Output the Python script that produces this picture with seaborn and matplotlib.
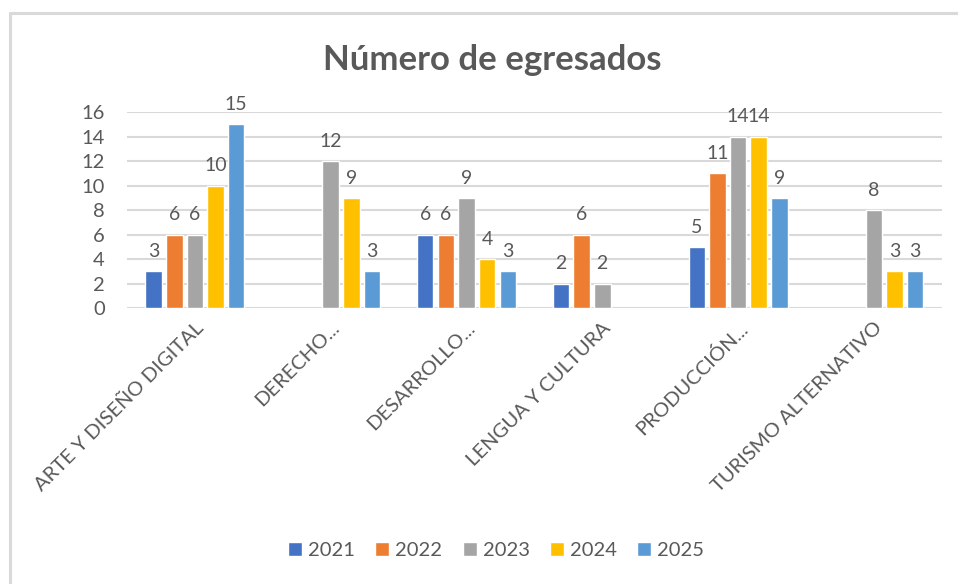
import pandas as pd
import numpy as np
import matplotlib
matplotlib.use("Agg")
import matplotlib.pyplot as plt
import seaborn as sns
from matplotlib.lines import Line2D

categories = ["ARTE Y DISEÑO DIGITAL", "DERECHO...", "DESARROLLO...",
              "LENGUA Y CULTURA", "PRODUCCIÓN...", "TURISMO ALTERNATIVO"]
years = ["2021", "2022", "2023", "2024", "2025"]
v2021 = [3, np.nan, 6, 2, 5, np.nan]
v2022 = [6, np.nan, 6, 6, 11, np.nan]
v2023 = [6, 12, 9, 2, 14, 8]
v2024 = [10, 9, 4, np.nan, 14, 3]
v2025 = [15, 3, 3, np.nan, 9, 3]

palette = {"2021": "#4472C4", "2022": "#ED7D31", "2023": "#A5A5A5",
           "2024": "#FFC000", "2025": "#5B9BD5"}

rows = []
for yr, vals in zip(years, [v2021, v2022, v2023, v2024, v2025]):
    for c, v in zip(categories, vals):
        rows.append({"Carrera": c, "Año": yr, "Egresados": v})
df = pd.DataFrame(rows)

sns.set_theme(style="white")
plt.rcParams["font.family"] = ["Lato", "DejaVu Sans"]
txt = "#595959"
grid = "#D9D9D9"

fig = plt.figure(figsize=(9.58, 5.84), dpi=100)
ax = fig.add_axes([0.1326, 0.4726, 0.8504, 0.3356])

sns.barplot(data=df, x="Carrera", y="Egresados", hue="Año", order=categories,
            hue_order=years, palette=palette, width=0.76, gap=0.2,
            saturation=1, ax=ax, legend=True)

for cont in ax.containers:
    ax.bar_label(cont, fmt="%g", padding=8, color=txt, fontsize=14)

ax.set_ylim(0, 16)
ax.set_yticks(range(0, 17, 2))
ax.set_xlim(-0.5, len(categories) - 0.5)
ax.yaxis.grid(True, color=grid, linewidth=1.5)
ax.set_axisbelow(True)
for s in ax.spines.values():
    s.set_visible(False)
ax.set_xlabel("")
ax.set_ylabel("")
ax.tick_params(axis="y", colors=txt, labelsize=14.5, length=0, pad=16)
ax.tick_params(axis="x", colors=txt, labelsize=14.5, length=0, pad=8)
plt.setp(ax.get_xticklabels(), rotation=45, ha="right", rotation_mode="anchor")

handles, labels = ax.get_legend_handles_labels()
ax.get_legend().remove()
fig.legend(handles, labels, loc="center", bbox_to_anchor=(0.518, 0.058), ncol=5,
           frameon=False, fontsize=14.5, labelcolor=txt, handlelength=0.7,
           handleheight=0.7, handletextpad=0.3, columnspacing=1.0)

fig.text(0.514, 0.897, "Número de egresados", ha="center", va="center",
         fontsize=25, fontweight="bold", color=txt)

# chart frame
fig.add_artist(Line2D([0.0105, 1.0], [0.9777, 0.9777], color=grid, linewidth=2.2))
fig.add_artist(Line2D([0.0105, 0.0105], [0.0, 0.9777], color=grid, linewidth=2.2))

fig.savefig("out.png", dpi=100)
